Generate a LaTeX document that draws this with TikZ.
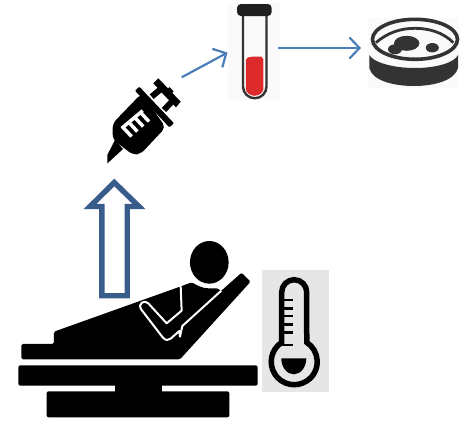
\documentclass[tikz,border=0pt]{standalone}
\usetikzlibrary{arrows.meta}
\definecolor{flowblue}{HTML}{4A7EBB}
\definecolor{bigblue}{HTML}{385D8A}
\definecolor{iconbg}{HTML}{E6E6E6}
\definecolor{faintbg}{HTML}{FAFAFA}
\definecolor{dishgray}{HTML}{333333}
\definecolor{bloodred}{HTML}{DD2A2A}
\tikzset{
  flow/.style={draw=flowblue,line width=2.2pt,-{Straight Barb[length=10pt,width=21pt,line width=2.2pt]}},
  bigarrow/.style={draw=bigblue,line width=5.4pt,fill=white,miter limit=10},
  barbox/.style={fill=black,rounded corners=2pt},
  gap/.style={draw=white,line width=2pt,line join=round},
  zoomA/.style={shift={(0,220)},x=0.3333pt,y=-0.3333pt},
  zoomB/.style={shift={(100,70)},x=0.3333pt,y=-0.3333pt},
}
\begin{document}
\begin{tikzpicture}[x=1pt,y=-1pt]
\useasboundingbox (0,0) rectangle (468,421);
% backgrounds
\fill[faintbg] (228,3) rectangle (280,100);
\fill[faintbg] (368,18) rectangle (458,88);
\fill[iconbg] (262,270) rectangle (328.5,392);
% connectors anchors
\coordinate (syr) at (181.7,77.3);
\coordinate (tubein) at (227.5,52.6);
\coordinate (tubeout) at (278.3,48);
\coordinate (dish) at (361,48);
\draw[flow] (syr) -- (tubein);
\draw[flow] (tubeout) -- (dish);
% big up arrow
\draw[bigarrow] (114.3,182.5) -- (139,206.5) -- (127.2,206.5) -- (127.2,295.7) -- (101.8,295.7) -- (101.8,206.5) -- (90,206.5) -- cycle;
% syringe
\fill (107.3,155) -- (107.3,163.5) -- (123,149) -- (115,140) -- cycle;
\begin{scope}[zoomB]
  \fill[rounded corners=1pt] (118,50) -- (222,160) -- (208,172) -- (105,62) -- cycle;
  \fill[rounded corners=5pt] (125,70) -- (38,160) -- (38,208) -- (98,254) -- (122,252) -- (197,172) -- cycle;
  \draw[white,line width=3.5pt] (65,175) -- (128,122);
  \draw[white,line width=3.5pt] (68.8,171.8) -- (94.6,199.5);
  \draw[white,line width=3.5pt] (86.3,156.8) -- (112,184.5);
  \draw[white,line width=3.5pt] (103.8,141.9) -- (129.6,169.6);
  \draw[white,line width=3.5pt] (121.2,126.9) -- (147,154.6);
  \fill (175,25) -- (242,95) -- (228,112) -- (160,40) -- cycle;
  \draw[line width=6pt,line join=miter] (155,80) -- (185,55) -- (220,90) -- (192,120);
  \draw[line width=6pt] (200,72) -- (215,58);
\end{scope}
% test tube
\fill[bloodred,rounded corners=2pt] (245.8,58) .. controls (252,56.3) and (258,56.3) .. (263.4,57) -- (263.4,87) arc[start angle=0,end angle=180,radius=8.8] -- cycle;
\draw[dishgray,line width=2.4pt] (243,12) -- (243,86.5) arc[start angle=180,end angle=0,radius=11.75] -- (266.5,12);
\fill[black!88,rounded corners=4pt] (237,4) rectangle (271.7,16);
% petri dish
\fill[dishgray] (369.3,55) .. controls (373,62) and (392,68) .. (415,68) .. controls (438,68) and (455,62) .. (458,55) -- (458,68) .. controls (455,80) and (435,86) .. (414,86) .. controls (392,86) and (372,80) .. (369.3,68) -- cycle;
\draw[dishgray,line width=3.6pt] (415,39.3) ellipse[x radius=42.5,y radius=20];
\draw[dishgray,line width=2.8pt] (376,42.7) .. controls (388,32) and (402,28.3) .. (415,28.3) .. controls (428,28.3) and (443,32) .. (453.3,42.7);
\fill[dishgray] (395,49.3) ellipse[x radius=7,y radius=5];
\fill[dishgray] (406.7,43.3) ellipse[x radius=12.7,y radius=7.5];
\fill[dishgray] (432.3,47.7) ellipse[x radius=6.5,y radius=4.7];
% patient
\begin{scope}[zoomA]
  \fill (628,127) ellipse[x radius=58,y radius=64];
  \fill[rounded corners=1.5pt] (64,372) -- (162,372) -- (162,335) -- (540,200) -- (575,187)
    .. controls (590,195) and (605,205) .. (630,205) -- (655,205) -- (662,214) -- (725,158) -- (752,185) -- (540,418) -- (64,418) -- cycle;
  \draw[gap] (542,196) -- (545,272) -- (500,310) -- (445,250) .. controls (435,238) and (410,250) .. (425,270)
    -- (488,352) .. controls (497,362) and (505,362) .. (512,356) -- (538,333) -- (540,350) -- (547,318) -- (664,212);
  \fill[barbox] (55,436) rectangle (773,497);
  \fill (345,490) rectangle (485,520);
  \fill[barbox] (140,514) rectangle (688,592);
\end{scope}
% thermometer
\draw[black,line width=5.5pt] (281.7,342.4) arc[start angle=237,end angle=-57,radius=23] -- (306.7,292.2) arc[start angle=0,end angle=-180,radius=12.5] -- cycle;
\foreach \yy in {300,308.3,316,324.3,332.7}{\draw[line width=2.5pt] (282,\yy) -- (293,\yy);}
\draw[line width=2.5pt] (281,345) -- (293,345);
\fill (281.3,358.3) -- (306.3,358.3) arc[start angle=0,end angle=180,x radius=12.5,y radius=16] -- cycle;
\end{tikzpicture}
\end{document}
